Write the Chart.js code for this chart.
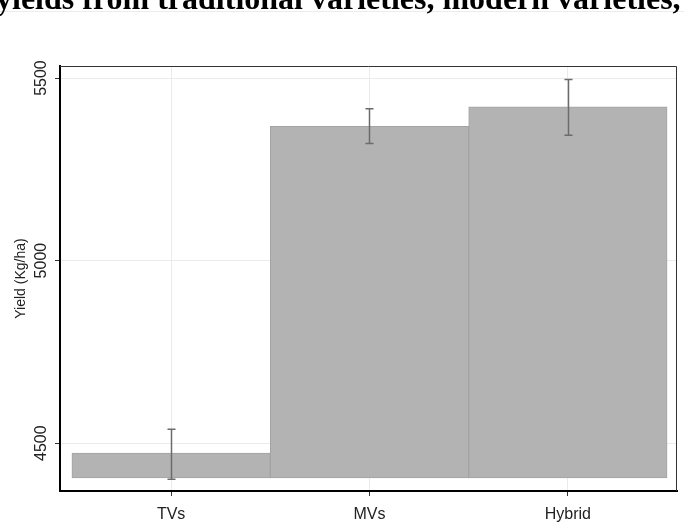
<!DOCTYPE html>
<html>
<head>
<meta charset="utf-8">
<script src="https://cdn.jsdelivr.net/npm/chart.js@4"></script>
<style>
  html, body { margin: 0; padding: 0; background: #fff; overflow: hidden; }
  #wrap { position: relative; width: 684px; height: 526px; }
  #title {
    position: absolute; left: -4px; top: -18px; white-space: nowrap;
    font: bold 32px "Liberation Serif", "Times New Roman", serif; line-height: 32px; color: #000;
  }
  #rule { position: absolute; left: 0; top: 11px; width: 684px; height: 1px; background: #ececec; }
  canvas { position: absolute; left: 0; top: 0; }
</style>
</head>
<body>
<div id="wrap">
  <canvas id="chart" width="684" height="526"></canvas>
  <div id="rule"></div>
  <div id="title">yields from traditional varieties, modern varieties,</div>
</div>
<script>
// data
const categories = ["TVs", "MVs", "Hybrid"];
const yields = [4473, 5368, 5421];
const errLow = [4401, 5321, 5343];
const errHigh = [4538, 5416, 5496];
const barBase = 4405;
const yTicks = [4500, 5000, 5500];

// error bars + top/right frame
const extras = {
  id: "extras",
  afterDatasetsDraw(chart) {
    const { ctx, chartArea: a, scales: { x, y } } = chart;
    ctx.save();
    ctx.strokeStyle = "#333";
    ctx.lineWidth = 1;
    ctx.beginPath();
    ctx.moveTo(a.left, a.top + 0.5);
    ctx.lineTo(a.right - 0.5, a.top + 0.5);
    ctx.lineTo(a.right - 0.5, a.bottom);
    ctx.stroke();

    ctx.strokeStyle = "#6b6b6b";
    ctx.lineWidth = 1.5;
    categories.forEach((c, i) => {
      const px = Math.round(x.getPixelForValue(i)) + 0.5;
      const lo = y.getPixelForValue(errLow[i]);
      const hi = y.getPixelForValue(errHigh[i]);
      ctx.beginPath();
      ctx.moveTo(px, lo); ctx.lineTo(px, hi);
      ctx.moveTo(px - 4, lo); ctx.lineTo(px + 4, lo);
      ctx.moveTo(px - 4, hi); ctx.lineTo(px + 4, hi);
      ctx.stroke();
    });
    ctx.restore();
  }
};

new Chart(document.getElementById("chart"), {
  type: "bar",
  data: {
    datasets: [{
      data: categories.map((c, i) => ({ x: i, y: [barBase, yields[i]] })),
      backgroundColor: "#b3b3b3",
      borderColor: "#a3a3a3",
      borderWidth: 1,
      borderSkipped: false,
      barPercentage: 1,
      categoryPercentage: 1
    }]
  },
  options: {
    responsive: false,
    animation: false,
    layout: { padding: { top: 66, right: 7, left: 0, bottom: 0 } },
    plugins: { legend: { display: false }, tooltip: { enabled: false } },
    scales: {
      x: {
        type: "linear",
        offset: false,
        min: -0.56,
        max: 2.55,
        afterBuildTicks: s => { s.ticks = categories.map((c, i) => ({ value: i })); },
        afterFit: s => { s.height = 35; },
        ticks: {
          callback: v => categories[v],
          font: { family: "Liberation Sans", size: 16 },
          color: "#222",
          padding: 9
        },
        grid: { offset: false, color: "#ebebeb", tickColor: "#333", tickLength: 5, lineWidth: 1 },
        border: { display: true, color: "#000", width: 2 }
      },
      y: {
        min: 4369,
        max: 5533,
        afterBuildTicks: s => { s.ticks = yTicks.map(v => ({ value: v })); },
        afterFit: s => { s.width = 60; },
        ticks: {
          callback: v => String(v),
          minRotation: 90,
          maxRotation: 90,
          crossAlign: "center",
          font: { family: "Liberation Sans", size: 16 },
          color: "#222",
          padding: -4
        },
        grid: { color: "#ebebeb", tickColor: "#333", tickLength: 5, lineWidth: 1 },
        border: { display: true, color: "#000", width: 2 },
        title: {
          display: true,
          text: "Yield (Kg/ha)",
          font: { family: "Liberation Sans", size: 14 },
          color: "#222",
          padding: { top: 13, bottom: 0 }
        }
      }
    }
  },
  plugins: [extras]
});
</script>
</body>
</html>
